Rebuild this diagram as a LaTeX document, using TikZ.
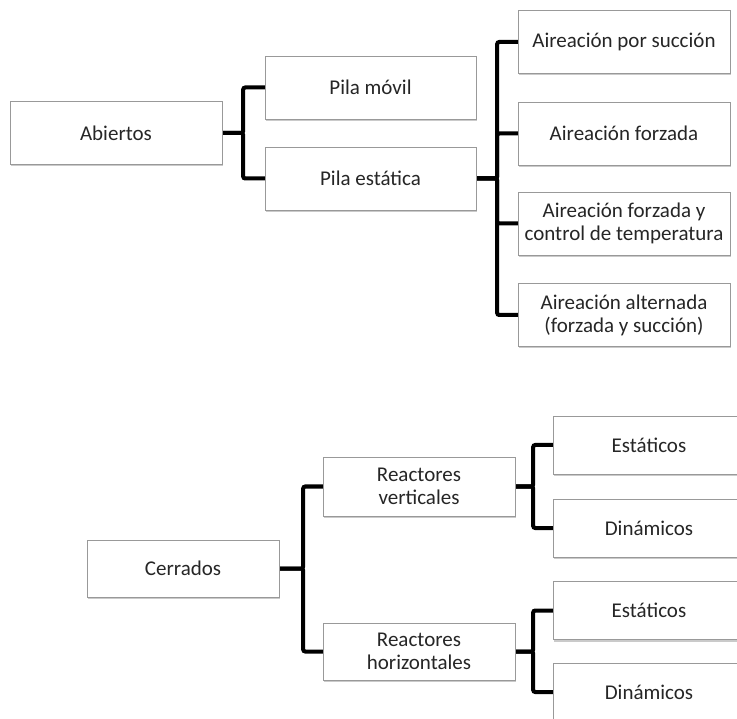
\documentclass[tikz,border=0pt]{standalone}
\usepackage{fontspec}
\setmainfont{Carlito}
\usepackage{tikz}
\usetikzlibrary{shadows,backgrounds,positioning}

\tikzset{
  caja/.style={draw=black!40, fill=white, align=center, inner sep=0pt,
    font=\fontsize{21}{23}\selectfont, text=black!85,
    drop shadow={shadow xshift=1pt, shadow yshift=-2pt, opacity=0.35, fill=black!60}},
  ancha/.style={caja, minimum width=212, minimum height=63},
  media/.style={caja, minimum width=192, minimum height=58},
  rama/.style={draw, line width=4pt, color=black, rounded corners=2pt}
}

\begin{document}
\begin{tikzpicture}[x=1pt,y=-1pt]
\useasboundingbox (0,0) rectangle (737,719);
% abiertos
\node[ancha] (abiertos) at (116,133) {Abiertos};
\node[ancha, minimum width=211] (pilamovil) at (370.5,87.5) {Pila móvil};
\node[ancha, minimum width=211] (pilaestatica) at (370.5,178.5) {Pila estática};
\node[ancha] (succion) at (624,42) {Aireación por succión};
\node[ancha] (forzada) at (624,133.5) {Aireación forzada};
\node[ancha] (control) at (624,223.5) {Aireación forzada y\\control de temperatura};
\node[ancha] (alternada) at (624,315) {Aireación alternada\\(forzada y succión)};
% cerrados
\node[media, minimum height=57] (cerrados) at (183,568.5) {Cerrados};
\node[media, minimum height=59] (verticales) at (419,486.5) {Reactores\\verticales};
\node[media, minimum height=57] (horizontales) at (419,651.5) {Reactores\\horizontales};
\node[media] (estaticosv) at (649,445) {Estáticos};
\node[media] (dinamicosv) at (649,528) {Dinámicos};
\node[media] (estaticosh) at (649,610.5) {Estáticos};
\node[media] (dinamicosh) at (649,692) {Dinámicos};
\begin{scope}[on background layer]
\path [rama] (abiertos.east) -- ++(21,0) |- (pilamovil.west) node[] {};
\path [rama] (abiertos.east) -- ++(21,0) |- (pilaestatica.west) node[] {};
\path [rama] (pilaestatica.east) -- ++(21,0) |- (succion.west) node[] {};
\path [rama] (pilaestatica.east) -- ++(21,0) |- (forzada.west) node[] {};
\path [rama] (pilaestatica.east) -- ++(21,0) |- (control.west) node[] {};
\path [rama] (pilaestatica.east) -- ++(21,0) |- (alternada.west) node[] {};
\path [rama] (cerrados.east) -- ++(24,0) |- (verticales.west) node[] {};
\path [rama] (cerrados.east) -- ++(24,0) |- (horizontales.west) node[] {};
\path [rama] (verticales.east) -- ++(18,0) |- (estaticosv.west) node[] {};
\path [rama] (verticales.east) -- ++(18,0) |- (dinamicosv.west) node[] {};
\path [rama] (horizontales.east) -- ++(18,0) |- (estaticosh.west) node[] {};
\path [rama] (horizontales.east) -- ++(18,0) |- (dinamicosh.west) node[] {};
\end{scope}
\end{tikzpicture}
\end{document}
